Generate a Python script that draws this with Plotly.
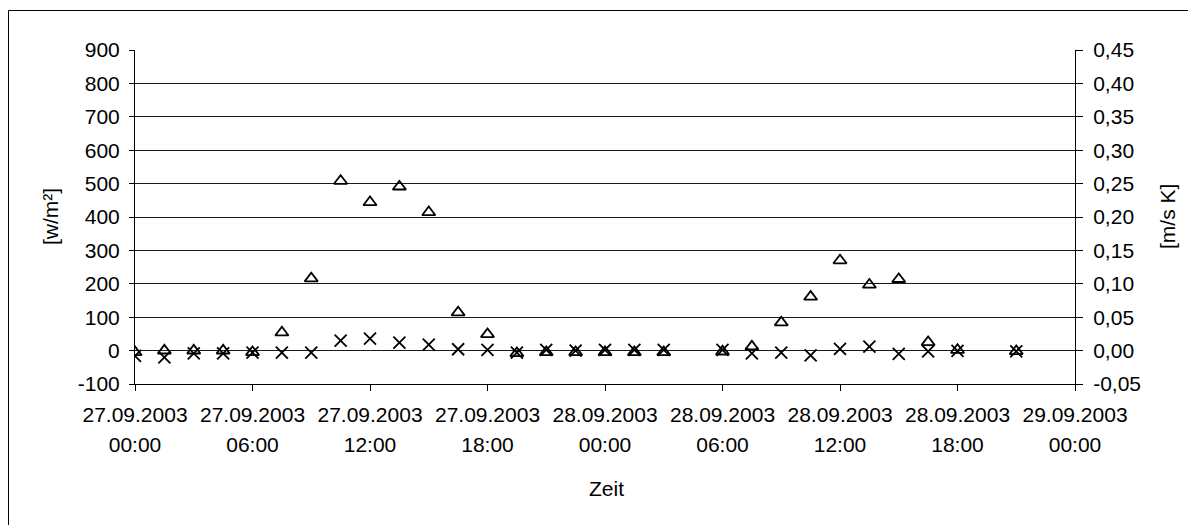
import plotly.graph_objects as go

# ---- data ----
times = [
    "2003-09-27 00:00", "2003-09-27 01:30", "2003-09-27 03:00", "2003-09-27 04:30",
    "2003-09-27 06:00", "2003-09-27 07:30", "2003-09-27 09:00", "2003-09-27 10:30",
    "2003-09-27 12:00", "2003-09-27 13:30", "2003-09-27 15:00", "2003-09-27 16:30",
    "2003-09-27 18:00", "2003-09-27 19:30", "2003-09-27 21:00", "2003-09-27 22:30",
    "2003-09-28 00:00", "2003-09-28 01:30", "2003-09-28 03:00", "2003-09-28 06:00",
    "2003-09-28 07:30", "2003-09-28 09:00", "2003-09-28 10:30", "2003-09-28 12:00",
    "2003-09-28 13:30", "2003-09-28 15:00", "2003-09-28 16:30", "2003-09-28 18:00",
    "2003-09-28 21:00",
]
strahlung = [-5, 0, 0, 0, -5, 54, 216, 508, 444, 491, 414, 114, 49, -8, -5, -5,
             -5, -5, -5, -3, 12, 84, 161, 270, 197, 214, 25, 2, -2]
fluss = [-0.008, -0.010, -0.004, -0.004, -0.003, -0.003, -0.003, 0.015, 0.018, 0.012,
         0.009, 0.002, 0.001, -0.003, 0.001, 0.0, 0.001, 0.001, 0.001, 0.001,
         -0.004, -0.003, -0.007, 0.0025, 0.006, -0.005, -0.001, -0.0005, -0.001]

x_tickvals = ["2003-09-27 00:00", "2003-09-27 06:00", "2003-09-27 12:00", "2003-09-27 18:00",
              "2003-09-28 00:00", "2003-09-28 06:00", "2003-09-28 12:00", "2003-09-28 18:00",
              "2003-09-29 00:00"]
x_ticktext_date = ["27.09.2003", "27.09.2003", "27.09.2003", "27.09.2003", "28.09.2003",
                   "28.09.2003", "28.09.2003", "28.09.2003", "29.09.2003"]
x_ticktext_time = ["00:00", "06:00", "12:00", "18:00", "00:00", "06:00", "12:00",
                   "18:00", "00:00"]
y1_tickvals = [-100, 0, 100, 200, 300, 400, 500, 600, 700, 800, 900]
y1_ticktext = ["-100", "0", "100", "200", "300", "400", "500", "600", "700", "800", "900"]
y2_tickvals = [-0.05, 0.0, 0.05, 0.10, 0.15, 0.20, 0.25, 0.30, 0.35, 0.40, 0.45]
y2_ticktext = ["-0,05", "0,00", "0,05", "0,10", "0,15", "0,20", "0,25", "0,30",
               "0,35", "0,40", "0,45"]
x_range = ["2003-09-27 00:00", "2003-09-29 00:00"]

FONT = "Liberation Sans, Arial, sans-serif"
FS = 21
tf = dict(family=FONT, size=FS, color="black")

fig = go.Figure()
fig.add_trace(go.Scatter(
    x=times, y=strahlung, mode="markers", name="Strahlung",
    marker=dict(symbol="triangle-up-open", size=11.5, color="black",
                line=dict(color="black", width=1.8)),
    xaxis="x", yaxis="y"))
fig.add_trace(go.Scatter(
    x=times, y=fluss, mode="markers", name="Fluss",
    marker=dict(symbol="x-thin", size=12, color="black",
                line=dict(color="black", width=1.8)),
    xaxis="x2", yaxis="y2"))

W, H = 1188, 517
ML, MR, MT, MB = 127, 121, 42, 141
PW = W - ML - MR
PH = H - MT - MB

fig.update_layout(
    width=W, height=H,
    margin=dict(l=ML, r=MR, t=MT, b=MB),
    paper_bgcolor="white", plot_bgcolor="white",
    font=tf,
    showlegend=False,
    xaxis=dict(type="date", range=x_range,
               tickmode="array", tickvals=x_tickvals, ticktext=x_ticktext_date,
               ticks="outside", ticklen=6, tickcolor="black", tickwidth=1,
               showline=True, linecolor="black", linewidth=1,
               showgrid=False, zeroline=False, ticklabelstandoff=6, tickfont=tf),
    xaxis2=dict(type="date", range=x_range, overlaying="x", side="bottom", anchor="y",
                tickmode="array", tickvals=x_tickvals, ticktext=x_ticktext_time,
                ticks="outside", ticklen=6, tickcolor="rgba(0,0,0,0)",
                showline=False, showgrid=False, zeroline=False,
                ticklabelstandoff=36, tickfont=tf),
    yaxis=dict(range=[-100, 900], tickmode="array", tickvals=y1_tickvals,
               ticktext=y1_ticktext, ticks="outside", ticklen=5, tickcolor="black",
               showline=True, linecolor="black", linewidth=1,
               showgrid=True, gridcolor="#1a1a1a", gridwidth=1, zeroline=False,
               ticklabelstandoff=5, tickfont=tf),
    yaxis2=dict(range=[-0.05, 0.45], overlaying="y", side="right", anchor="x",
                tickmode="array", tickvals=y2_tickvals, ticktext=y2_ticktext,
                ticks="outside", ticklen=7, tickcolor="black",
                showline=True, linecolor="black", linewidth=1,
                showgrid=False, zeroline=False, ticklabelstandoff=6, tickfont=tf),
    annotations=[
        dict(text="[w/m²]", xref="paper", yref="paper", x=(42 - ML) / PW, y=0.5,
             xanchor="center", yanchor="middle", textangle=-90, showarrow=False,
             font=tf),
        dict(text="[m/s K]", xref="paper", yref="paper", x=(1159 - ML) / PW, y=0.5,
             xanchor="center", yanchor="middle", textangle=-90, showarrow=False,
             font=tf),
        dict(text="Zeit", xref="paper", yref="paper", x=(598 - ML) / PW,
             y=(H - MB - 480) / PH,
             xanchor="center", yanchor="middle", showarrow=False, font=tf),
    ],
    shapes=[
        dict(type="rect", xref="paper", yref="paper",
             x0=(0.5 - ML) / PW, x1=(W + 20 - ML) / PW,
             y0=(H - MB - (H + 20)) / PH, y1=(H - MB - 2.5) / PH,
             line=dict(color="black", width=1), fillcolor="rgba(0,0,0,0)",
             layer="below"),
    ],
)

fig.write_html("out.html")
